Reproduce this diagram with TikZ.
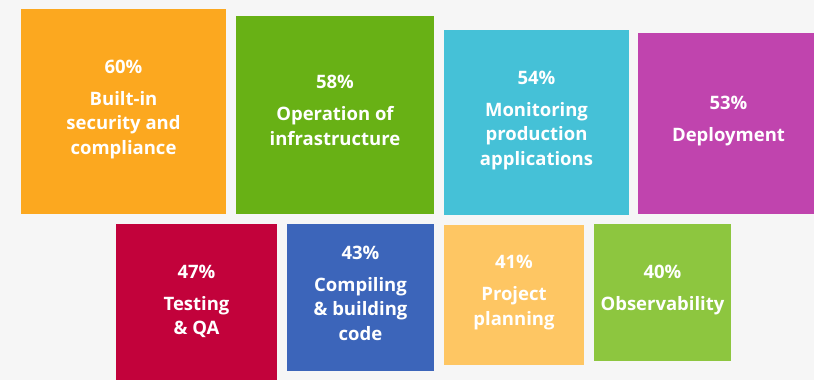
\documentclass[tikz,border=0pt]{standalone}
\usepackage{fontspec}
\setmainfont{Open Sans}
\definecolor{bg}{HTML}{F6F6F6}
\definecolor{cOrange}{HTML}{FCA81F}
\definecolor{cGreen}{HTML}{68B115}
\definecolor{cCyan}{HTML}{45C1D7}
\definecolor{cMagenta}{HTML}{C044AE}
\definecolor{cCrimson}{HTML}{C2023B}
\definecolor{cBlue}{HTML}{3C65BA}
\definecolor{cSand}{HTML}{FEC663}
\definecolor{cLime}{HTML}{8DC63F}
\newcommand{\pct}[1]{#1\\[7.5pt]}
\newcommand{\lift}{\\[-15.5pt]\mbox{}}
\begin{document}
\begin{tikzpicture}[x=1pt,y=-1pt]
	\tikzstyle{Tile} = [rectangle, anchor=north west, inner sep=0pt, outer sep=0pt, draw=none, align=center, text=white, font=\fontsize{18.5}{24.5}\selectfont\bfseries]

	\fill [bg] (0,0) rectangle (814,380);
	\useasboundingbox (0,0) rectangle (814,380);

	\node (sec) [Tile, fill=cOrange, minimum width=205pt, minimum height=205pt] at (21,9) {\pct{60\%}Built-in\\security and\\compliance\lift};
	\node (ops) [Tile, fill=cGreen, minimum width=198pt, minimum height=198pt] at (236,16) {\pct{58\%}Operation of\\infrastructure\lift};
	\node (mon) [Tile, fill=cCyan, minimum width=185pt, minimum height=185pt] at (444,30) {\pct{54\%}Monitoring\\production\\applications\lift};
	\node (dep) [Tile, fill=cMagenta, minimum width=181pt, minimum height=181pt] at (638,33) {\pct{53\%}Deployment\lift};

	\node (tst) [Tile, fill=cCrimson, minimum width=161pt, minimum height=161pt] at (116,224) {\pct{47\%}Testing\\\& QA\lift};
	\node (cmp) [Tile, fill=cBlue, minimum width=147pt, minimum height=147pt] at (287,224) {\pct{43\%}Compiling\\\& building\\code\lift};
	\node (pln) [Tile, fill=cSand, minimum width=140pt, minimum height=140pt] at (444,225) {\pct{41\%}Project\\planning\lift};
	\node (obs) [Tile, fill=cLime, minimum width=137pt, minimum height=137pt] at (594,224) {\pct{40\%}Observability\lift};
\end{tikzpicture}
\end{document}
